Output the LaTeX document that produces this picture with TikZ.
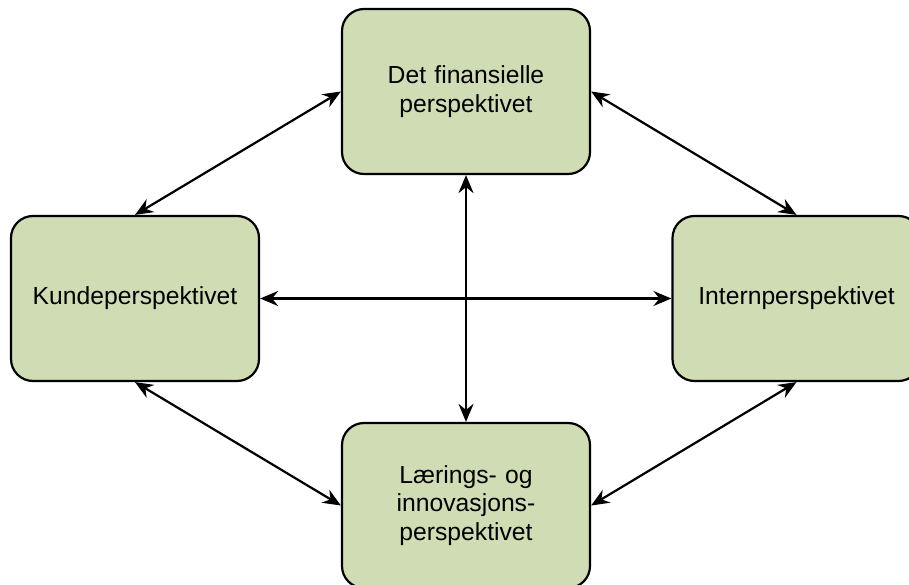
\documentclass[tikz,border=0pt]{standalone}
\usepackage{fontspec}
\setmainfont{Liberation Sans}
\usetikzlibrary{arrows.meta}
\definecolor{boxfill}{HTML}{D0DDB4}
\begin{document}
\begin{tikzpicture}[x=1pt,y=-1pt,
  persp/.style={draw=black, line width=2.2pt, fill=boxfill, rounded corners=22pt,
    minimum width=248pt, minimum height=165pt, inner sep=0pt, align=center,
    text width=236pt, font=\fontsize{24.7}{28.5}\selectfont},
  link/.style={line width=2.2pt, {Stealth[length=18pt,width=15pt,inset=6pt]}-{Stealth[length=18pt,width=15pt,inset=6pt]}}]
\useasboundingbox (0,0) rectangle (909,585);
\clip (0,0) rectangle (909,585);
% the four perspectives
\node[persp] (fin)   at (466,91.5)  {Det finansielle\\perspektivet};
\node[persp] (kunde) at (135,298.5) {Kundeperspektivet};
\node[persp] (intern) at (796.5,298.5) {Internperspektivet};
\node[persp] (laer)  at (466,505.5) {Lærings- og\\innovasjons-\\perspektivet};
% two-way links between them
\draw[link] (kunde.north) -- (fin.west);
\draw[link] (fin.east) -- (intern.north);
\draw[link] (kunde.south) -- (laer.west);
\draw[link] (laer.east) -- (intern.south);
\draw[link] (kunde.east) -- (intern.west);
\draw[link] (fin.south) -- (laer.north);
\end{tikzpicture}
\end{document}
